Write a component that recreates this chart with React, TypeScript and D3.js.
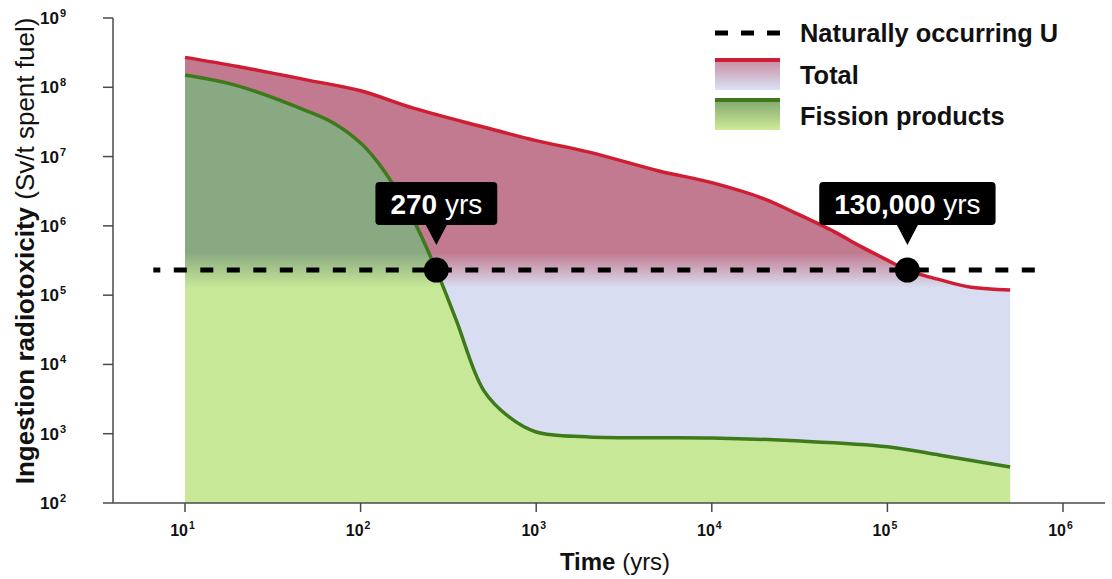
import React, { useLayoutEffect, useRef, useState } from 'react';
import * as d3 from 'd3';

// Ingestion radiotoxicity of spent fuel (Sv per tonne) against time since discharge (years)
const years = [10, 20, 50, 100, 200, 500, 1000, 2000, 5000, 10000, 20000, 30000, 50000, 70000, 100000, 130000, 200000, 300000, 500000];
const totalTox = [2.7e8, 2.0e8, 1.27e8, 8.9e7, 5.0e7, 2.67e7, 1.7e7, 1.16e7, 6.2e6, 4.2e6, 2.44e6, 1.53e6, 8.2e5, 5.1e5, 3.2e5, 2.3e5, 1.66e5, 1.3e5, 1.19e5];

const fissionYears = [10, 20, 50, 70, 100, 120, 150, 200, 270, 350, 500, 700, 1000, 2000, 10000, 30000, 100000, 200000, 500000];
const fissionTox = [1.5e8, 1.05e8, 4.5e7, 3.05e7, 1.57e7, 9.5e6, 4.3e6, 1.22e6, 2.3e5, 4.4e4, 4.3e3, 1.75e3, 1.06e3, 900, 870, 790, 650, 490, 330];

// Reference level: naturally occurring uranium ore
const uraniumLevel = 2.3e5;
const uraniumSpan = [6.6, 7.7e5];

const crossingYears = [270, 130000];
const crossingLabels = ['270', '130,000'];

const xTickExponents = [1, 2, 3, 4, 5, 6];
const yTickExponents = [2, 3, 4, 5, 6, 7, 8, 9];

const legendLabels = ['Naturally occurring U', 'Total', 'Fission products'];

const W = 1112;
const H = 579;
const FONT = '"Liberation Sans", Arial, Helvetica, sans-serif';
const AXIS_COLOR = '#4a4a4a';
const RED = '#cf1d34';
const GREEN = '#3e7a1b';

type Pt = { t: number; v: number };

function Callout({ cx, cy, label }: { cx: number; cy: number; label: string }) {
  const textRef = useRef<SVGTextElement>(null);
  const [w, setW] = useState(120);
  useLayoutEffect(() => {
    if (textRef.current) setW(textRef.current.getComputedTextLength() + 30);
  }, [label]);
  const boxBottom = cy - 45;
  const boxH = 43;
  const tipY = cy - 25;
  return (
    <g>
      <rect x={cx - w / 2} y={boxBottom - boxH} width={w} height={boxH} rx={4} fill="#000" />
      <path d={`M${cx - 11},${boxBottom - 1} L${cx + 11},${boxBottom - 1} L${cx},${tipY} Z`} fill="#000" />
      <text
        ref={textRef}
        x={cx}
        y={boxBottom - 11}
        textAnchor="middle"
        fill="#fff"
        fontFamily={FONT}
        fontSize={28}
      >
        <tspan fontWeight="bold">{label}</tspan>
        <tspan> yrs</tspan>
      </text>
    </g>
  );
}

export default function App() {
  const x = d3.scaleLog().domain([10, 1e6]).range([185, 1063]);
  const y = d3.scaleLog().domain([1e2, 1e9]).range([503, 18]);

  const totalPts: Pt[] = years.map((t, i) => ({ t, v: totalTox[i] }));
  const fissionPts: Pt[] = fissionYears.map((t, i) => ({ t, v: fissionTox[i] }));

  const curve = d3.curveCatmullRom.alpha(0.5);
  const area = d3
    .area<Pt>()
    .x((d) => x(d.t))
    .y0(y(1e2))
    .y1((d) => y(d.v))
    .curve(curve);
  const line = d3
    .line<Pt>()
    .x((d) => x(d.t))
    .y((d) => y(d.v))
    .curve(curve);

  const gradTop = y(uraniumLevel * Math.pow(10, 0.25));
  const gradBottom = y(uraniumLevel / Math.pow(10, 0.25));
  const uY = y(uraniumLevel);

  const axisLeft = 113;
  const axisRight = 1105;
  const axisBottom = y(1e2);

  return (
    <svg
      width={W}
      height={H}
      style={{ position: 'absolute', left: 0, top: 0, background: '#fff' }}
      fontFamily={FONT}
    >
      <defs>
        <linearGradient id="totalFill" gradientUnits="userSpaceOnUse" x1={0} x2={0} y1={gradTop} y2={gradBottom}>
          <stop offset="0" stopColor="#c27a90" />
          <stop offset="1" stopColor="#d8ddf1" />
        </linearGradient>
        <linearGradient id="fissionFill" gradientUnits="userSpaceOnUse" x1={0} x2={0} y1={gradTop} y2={gradBottom}>
          <stop offset="0" stopColor="#89a982" />
          <stop offset="1" stopColor="#c7e896" />
        </linearGradient>
        <linearGradient id="totalSwatch" x1={0} x2={0} y1={0} y2={1}>
          <stop offset="0" stopColor="#c7879c" />
          <stop offset="1" stopColor="#dbe2f5" />
        </linearGradient>
        <linearGradient id="fissionSwatch" x1={0} x2={0} y1={0} y2={1}>
          <stop offset="0" stopColor="#7ea26c" />
          <stop offset="1" stopColor="#cdeb98" />
        </linearGradient>
      </defs>

      {/* areas */}
      <path d={area(totalPts) ?? ''} fill="url(#totalFill)" />
      <path d={area(fissionPts) ?? ''} fill="url(#fissionFill)" />

      {/* curves */}
      <path d={line(totalPts) ?? ''} fill="none" stroke={RED} strokeWidth={3.5} />
      <path d={line(fissionPts) ?? ''} fill="none" stroke={GREEN} strokeWidth={3.5} />

      {/* axes */}
      <line x1={axisLeft} x2={axisLeft} y1={y(1e9)} y2={axisBottom} stroke={AXIS_COLOR} strokeWidth={1.5} />
      <line x1={axisLeft} x2={axisRight} y1={axisBottom} y2={axisBottom} stroke={AXIS_COLOR} strokeWidth={1.5} />
      {yTickExponents.map((e) => (
        <g key={`y${e}`}>
          <line x1={axisLeft - 10} x2={axisLeft} y1={y(10 ** e)} y2={y(10 ** e)} stroke={AXIS_COLOR} strokeWidth={1.5} />
          <text x={59} y={y(10 ** e) + 6} textAnchor="end" fontSize={17} fontWeight="bold" fill="#111">
            10
          </text>
          <text x={60} y={y(10 ** e) - 1} fontSize={11} fontWeight="bold" fill="#111">
            {e}
          </text>
        </g>
      ))}
      {xTickExponents.map((e) => (
        <g key={`x${e}`}>
          <line x1={x(10 ** e)} x2={x(10 ** e)} y1={axisBottom} y2={axisBottom + 9} stroke={AXIS_COLOR} strokeWidth={1.5} />
          <text x={x(10 ** e) + 3} y={536} textAnchor="end" fontSize={16} fontWeight="bold" fill="#111">
            10
          </text>
          <text x={x(10 ** e) + 4} y={529} fontSize={10.5} fontWeight="bold" fill="#111">
            {e}
          </text>
        </g>
      ))}

      {/* axis titles */}
      <text x={615} y={570} textAnchor="middle" fontSize={24} fill="#111">
        <tspan fontWeight="bold">Time</tspan>
        <tspan> (yrs)</tspan>
      </text>
      <text transform="translate(34,251) rotate(-90)" textAnchor="middle" fontSize={26} fill="#111">
        <tspan fontWeight="bold">Ingestion radiotoxicity</tspan>
        <tspan> (Sv/t spent fuel)</tspan>
      </text>

      {/* naturally occurring uranium reference */}
      <line
        x1={x(uraniumSpan[0])}
        x2={x(uraniumSpan[1])}
        y1={uY}
        y2={uY}
        stroke="#000"
        strokeWidth={5}
        strokeDasharray="13 13.5"
        strokeDashoffset={6}
      />

      {/* crossing markers: each sits where a curve meets the uranium level */}
      {crossingYears.map((t, i) => (
        <g key={`c${t}`}>
          <circle cx={x(t)} cy={uY} r={12.5} fill="#000" />
          <Callout cx={x(t)} cy={uY} label={crossingLabels[i]} />
        </g>
      ))}

      {/* legend */}
      <g>
        <line x1={715} x2={781} y1={33} y2={33} stroke="#000" strokeWidth={5} strokeDasharray="13 13" />
        <text x={800} y={42} fontSize={25.4} fontWeight="bold" fill="#111">
          {legendLabels[0]}
        </text>
        <rect x={715} y={58} width={65} height={32} fill="url(#totalSwatch)" />
        <rect x={715} y={58} width={65} height={4} fill={RED} />
        <text x={800} y={84} fontSize={25.4} fontWeight="bold" fill="#111">
          {legendLabels[1]}
        </text>
        <rect x={715} y={98} width={65} height={32} fill="url(#fissionSwatch)" />
        <rect x={715} y={98} width={65} height={4} fill={GREEN} />
        <text x={800} y={125} fontSize={25.4} fontWeight="bold" fill="#111">
          {legendLabels[2]}
        </text>
      </g>
    </svg>
  );
}
